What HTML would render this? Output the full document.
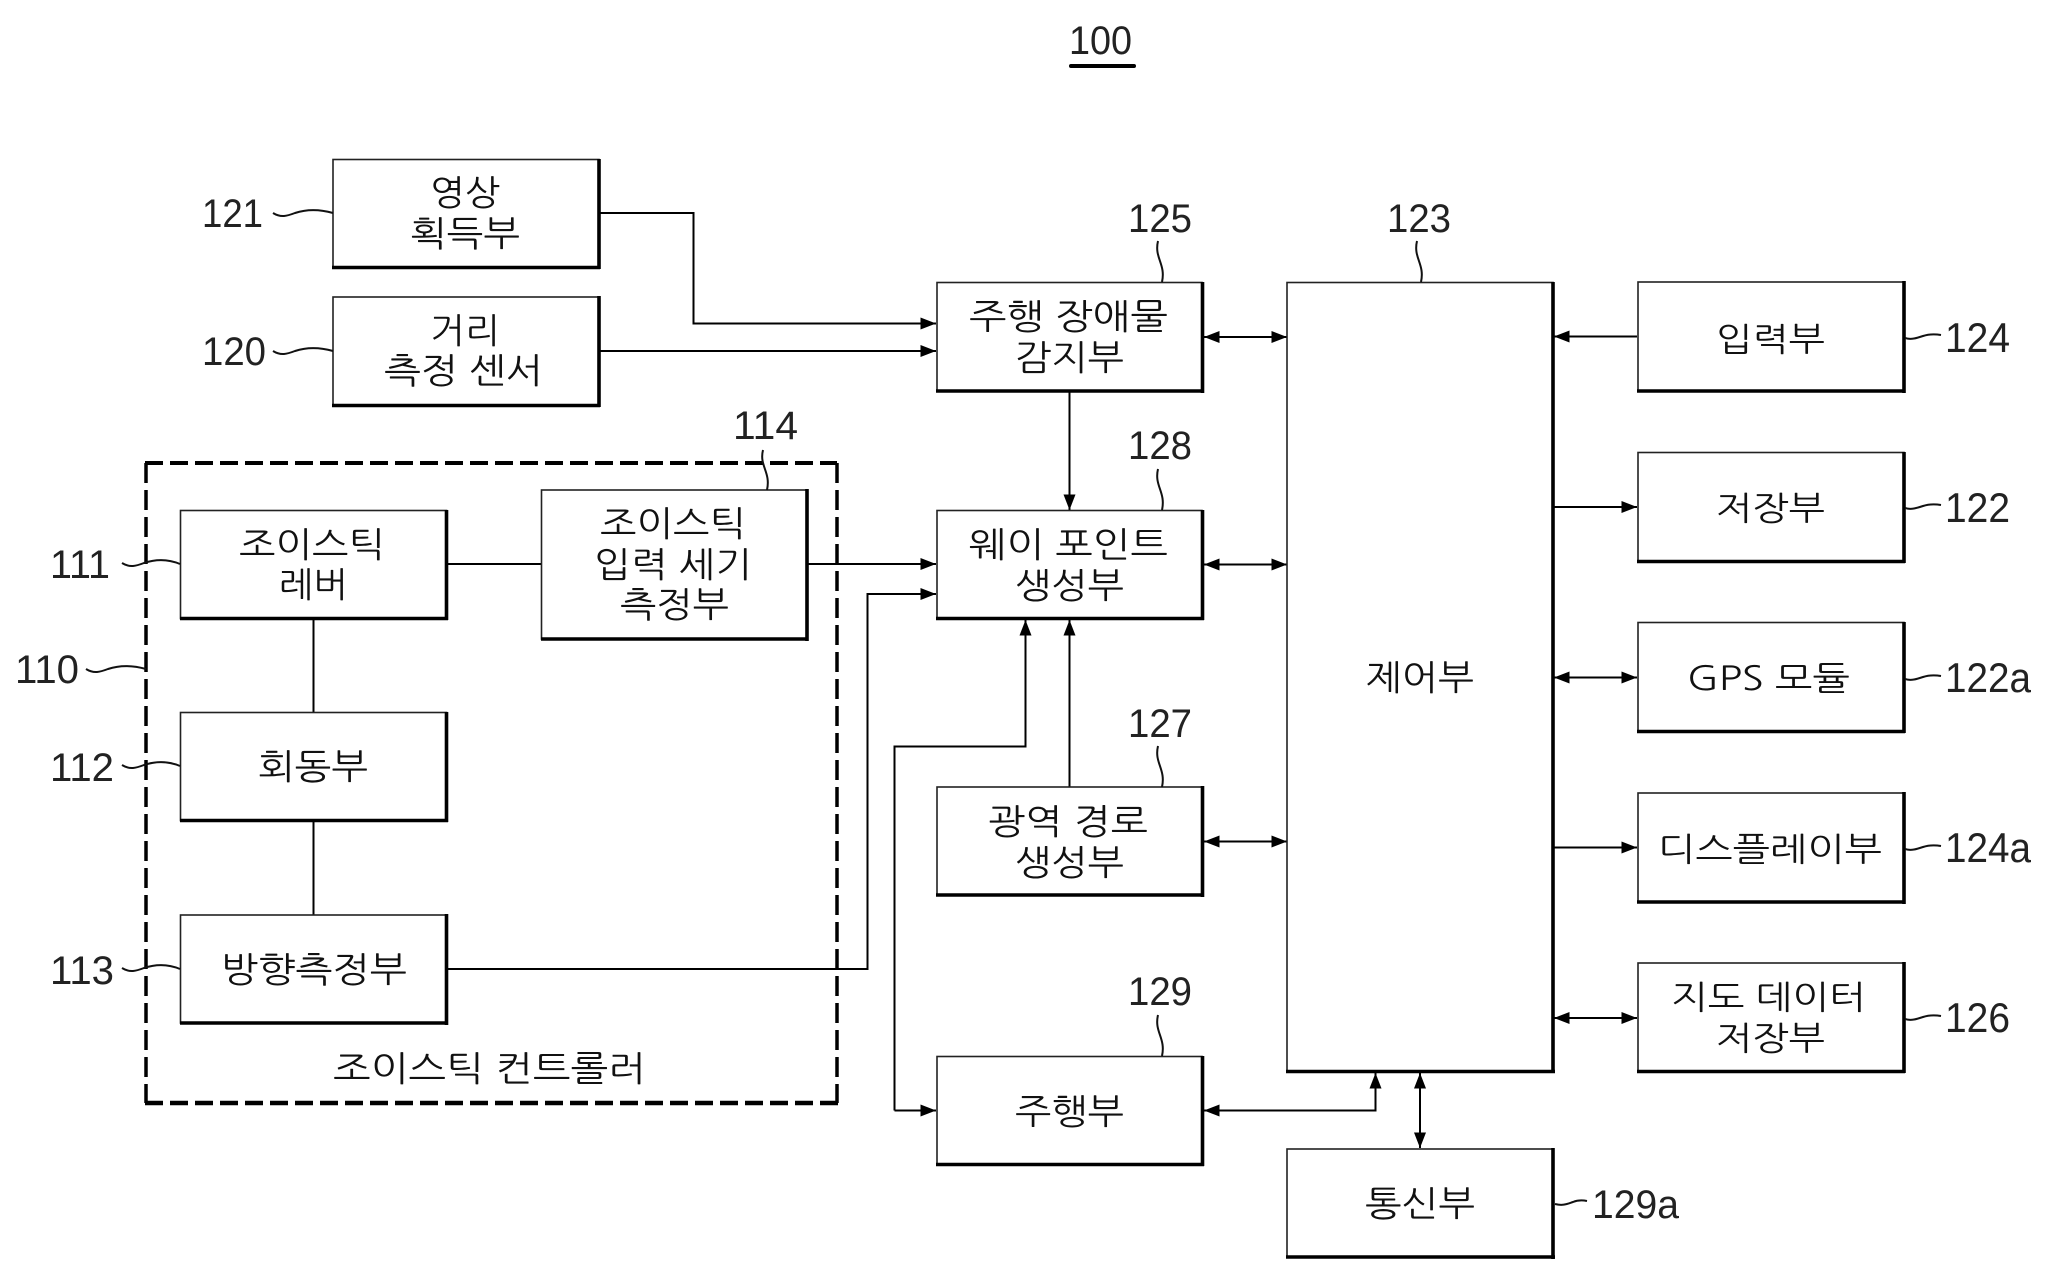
<!DOCTYPE html>
<html lang="ko"><head><meta charset="utf-8"><title>100</title>
<style>
html,body{margin:0;padding:0;background:#fff;width:2048px;height:1281px;overflow:hidden}
svg{display:block}
.k{font-family:"NanumGothic","Noto Sans CJK KR",sans-serif;font-size:35px;fill:#111}
.q{font-size:33px}
.n{font-family:"Liberation Sans",sans-serif;font-size:40px;fill:#222}
.r{font-size:42px}
.l{fill:none;stroke:#000;stroke-width:2}
.w{fill:none;stroke:#111;stroke-width:2}
.b{fill:#fff;stroke:#222;stroke-width:1.6}
.t{stroke:#000;stroke-width:3.6;fill:none}
.d{stroke:#000;fill:none}
</style></head><body>
<svg width="2048" height="1281" viewBox="0 0 2048 1281" xmlns="http://www.w3.org/2000/svg">
<defs>
<marker id="a" markerUnits="userSpaceOnUse" markerWidth="16" markerHeight="12" refX="15.5" refY="6" orient="auto-start-reverse"><path d="M0 0L15.5 6L0 12z" fill="#000"/></marker>
</defs>
<rect width="2048" height="1281" fill="#fff"/>

<!-- dashed group -->
<path class="d" stroke-width="4" stroke-dasharray="18 7" d="M145 463H837"/>
<path class="d" stroke-width="3.5" stroke-dasharray="20 7" d="M146 463V1103"/>
<path class="d" stroke-width="3.5" stroke-dasharray="20 7" d="M837 463V1103"/>
<path class="d" stroke-width="4.5" stroke-dasharray="18 7" d="M145 1103H838"/>

<!-- connectors -->
<path class="l" d="M600 213H693.500V323.500H936" marker-end="url(#a)"/>
<path class="l" d="M600 351H936" marker-end="url(#a)"/>
<path class="l" d="M447 564H541"/>
<path class="l" d="M807 564H936" marker-end="url(#a)"/>
<path class="l" d="M313.500 619V712"/>
<path class="l" d="M313.500 821V915"/>
<path class="l" d="M447 969H867.500V594H936" marker-end="url(#a)"/>
<path class="l" d="M1069.500 391V510" marker-end="url(#a)"/>
<path class="l" d="M1069.500 787V620" marker-end="url(#a)"/>
<path class="l" d="M894.500 1110.500V746.500H1025.500V620" marker-end="url(#a)"/>
<path class="l" d="M894.500 1110.500H936" marker-end="url(#a)"/>
<path class="l" d="M1204 337H1287" marker-start="url(#a)" marker-end="url(#a)"/>
<path class="l" d="M1204 564.500H1287" marker-start="url(#a)" marker-end="url(#a)"/>
<path class="l" d="M1204 841.500H1287" marker-start="url(#a)" marker-end="url(#a)"/>
<path class="l" d="M1204 1110.500H1375.500V1073" marker-start="url(#a)" marker-end="url(#a)"/>
<path class="l" d="M1420 1073V1148" marker-start="url(#a)" marker-end="url(#a)"/>
<path class="l" d="M1637 336.500H1554" marker-end="url(#a)"/>
<path class="l" d="M1554 507H1637" marker-end="url(#a)"/>
<path class="l" d="M1554 677.500H1637" marker-start="url(#a)" marker-end="url(#a)"/>
<path class="l" d="M1554 847.500H1637" marker-end="url(#a)"/>
<path class="l" d="M1554 1018H1637" marker-start="url(#a)" marker-end="url(#a)"/>

<!-- boxes -->
<g>
<rect class="b" x="333" y="159.500" width="266" height="108"/><path class="t" d="M332 267.500H600M599 159V269"/>
<rect class="b" x="333" y="297" width="266" height="108.500"/><path class="t" d="M332 405.500H600M599 296V407"/>
<rect class="b" x="180.500" y="510.500" width="266" height="108"/><path class="t" d="M180 618.500H448M446.500 510V620"/>
<rect class="b" x="541.500" y="490" width="265.500" height="149"/><path class="t" d="M541 639H808M807 489V641"/>
<rect class="b" x="180.500" y="712.500" width="266" height="108"/><path class="t" d="M180 820.500H448M446.500 712V822"/>
<rect class="b" x="180.500" y="915" width="266" height="108"/><path class="t" d="M180 1023H448M446.500 914V1025"/>
<rect class="b" x="937" y="282.500" width="265" height="108.500"/><path class="t" d="M936 391H1204M1202.500 282V393"/>
<rect class="b" x="937" y="510.500" width="265" height="108"/><path class="t" d="M936 618.500H1204M1202.500 510V620"/>
<rect class="b" x="937" y="787" width="265" height="108"/><path class="t" d="M936 895H1204M1202.500 786V897"/>
<rect class="b" x="937" y="1056.500" width="265" height="108"/><path class="t" d="M936 1164.500H1204M1202.500 1056V1166"/>
<rect class="b" x="1287" y="282.500" width="266" height="789"/><path class="t" d="M1286 1071.500H1555M1553 282V1073"/>
<rect class="b" x="1287" y="1149" width="266" height="108"/><path class="t" d="M1286 1257H1555M1553 1148V1259"/>
<rect class="b" x="1638" y="282" width="266" height="109"/><path class="t" d="M1637 391H1905M1904 281V393"/>
<rect class="b" x="1638" y="452.500" width="266" height="109"/><path class="t" d="M1637 561.500H1905M1904 452V563"/>
<rect class="b" x="1638" y="622.500" width="266" height="109"/><path class="t" d="M1637 731.500H1905M1904 622V733"/>
<rect class="b" x="1638" y="793" width="266" height="109"/><path class="t" d="M1637 902H1905M1904 792V904"/>
<rect class="b" x="1638" y="963" width="266" height="108.500"/><path class="t" d="M1637 1071.500H1905M1904 962V1073"/>
</g>

<!-- leaders -->
<g>
<path class="w" d="M273 213c8 5 14 3 22 0c12 -4 24 -4 38 0"/>
<path class="w" d="M273 351c8 5 14 3 22 0c12 -4 24 -4 38 0"/>
<path class="w" d="M122 563c8 5 14 3 22 0c12 -4 24 -4 36 1"/>
<path class="w" d="M86 669c8 5 14 3 22 0c12 -4 24 -4 38 0"/>
<path class="w" d="M122 765c8 5 14 3 22 0c12 -4 24 -4 36 1"/>
<path class="w" d="M122 968c8 5 14 3 22 0c12 -4 24 -4 36 1"/>
<path class="w" d="M763 450c-4 16 8 22 4 40"/>
<path class="w" d="M1158 241c-4 17 8 23 4 41"/>
<path class="w" d="M1417 241c-4 17 8 23 4 41"/>
<path class="w" d="M1158 469c-4 17 8 23 4 41"/>
<path class="w" d="M1158 746c-4 17 8 23 4 41"/>
<path class="w" d="M1158 1015c-4 17 8 23 4 41"/>
<path class="w" d="M1905 338c6 2 12 0 18 -2c6 -2 12 -2 18 -1"/>
<path class="w" d="M1905 508c6 2 12 0 18 -2c6 -2 12 -2 18 -1"/>
<path class="w" d="M1905 679c6 2 12 0 18 -2c6 -2 12 -2 18 -1"/>
<path class="w" d="M1905 849c6 2 12 0 18 -2c6 -2 12 -2 18 -1"/>
<path class="w" d="M1905 1019c6 2 12 0 18 -2c6 -2 12 -2 18 -1"/>
<path class="w" d="M1555 1204c8 2 12 0 18 -2c5 -2 9 -2 14 -1"/>
</g>

<!-- numbers -->
<g>
<text class="n" x="1069" y="54" textLength="63" lengthAdjust="spacingAndGlyphs">100</text>
<rect x="1069" y="64" width="67" height="4" rx="2" fill="#000"/>
<text class="n" x="202" y="227" textLength="61" lengthAdjust="spacingAndGlyphs">121</text>
<text class="n" x="202" y="365" textLength="64" lengthAdjust="spacingAndGlyphs">120</text>
<text class="n" x="733" y="439" textLength="65" lengthAdjust="spacingAndGlyphs">114</text>
<text class="n" x="50" y="578" textLength="60" lengthAdjust="spacingAndGlyphs">111</text>
<text class="n" x="15" y="683" textLength="64" lengthAdjust="spacingAndGlyphs">110</text>
<text class="n" x="50" y="781" textLength="64" lengthAdjust="spacingAndGlyphs">112</text>
<text class="n" x="50" y="984" textLength="64" lengthAdjust="spacingAndGlyphs">113</text>
<text class="n" x="1128" y="232" textLength="64" lengthAdjust="spacingAndGlyphs">125</text>
<text class="n" x="1387" y="232" textLength="64" lengthAdjust="spacingAndGlyphs">123</text>
<text class="n" x="1128" y="459" textLength="64" lengthAdjust="spacingAndGlyphs">128</text>
<text class="n" x="1128" y="737" textLength="64" lengthAdjust="spacingAndGlyphs">127</text>
<text class="n" x="1128" y="1005" textLength="64" lengthAdjust="spacingAndGlyphs">129</text>
<text class="n r" x="1945" y="352" textLength="65" lengthAdjust="spacingAndGlyphs">124</text>
<text class="n r" x="1945" y="522" textLength="65" lengthAdjust="spacingAndGlyphs">122</text>
<text class="n r" x="1945" y="692" textLength="86" lengthAdjust="spacingAndGlyphs">122a</text>
<text class="n r" x="1945" y="862" textLength="86" lengthAdjust="spacingAndGlyphs">124a</text>
<text class="n r" x="1945" y="1032" textLength="65" lengthAdjust="spacingAndGlyphs">126</text>
<text class="n" x="1592" y="1218" textLength="87" lengthAdjust="spacingAndGlyphs">129a</text>
</g>

<!-- labels -->
<g>
<text class="k" x="430" y="205" textLength="70" lengthAdjust="spacingAndGlyphs">영상</text>
<text class="k" x="410" y="246" textLength="110" lengthAdjust="spacingAndGlyphs">획득부</text>
<text class="k" x="430" y="343" textLength="70" lengthAdjust="spacingAndGlyphs">거리</text>
<text class="k" x="384" y="383" textLength="159" lengthAdjust="spacingAndGlyphs">측정 센서</text>
<text class="k" x="239" y="557" textLength="146" lengthAdjust="spacingAndGlyphs">조이스틱</text>
<text class="k" x="279" y="597" textLength="69" lengthAdjust="spacingAndGlyphs">레버</text>
<text class="k" x="600" y="536" textLength="146" lengthAdjust="spacingAndGlyphs">조이스틱</text>
<text class="k" x="594" y="577" textLength="158" lengthAdjust="spacingAndGlyphs">입력 세기</text>
<text class="k" x="620" y="617" textLength="109" lengthAdjust="spacingAndGlyphs">측정부</text>
<text class="k" x="258" y="779" textLength="110" lengthAdjust="spacingAndGlyphs">회동부</text>
<text class="k" x="221" y="982" textLength="186" lengthAdjust="spacingAndGlyphs">방향측정부</text>
<text class="k" x="333" y="1081" textLength="313" lengthAdjust="spacingAndGlyphs">조이스틱 컨트롤러</text>
<text class="k" x="969" y="329" textLength="199" lengthAdjust="spacingAndGlyphs">주행 장애물</text>
<text class="k" x="1015" y="370" textLength="109" lengthAdjust="spacingAndGlyphs">감지부</text>
<text class="k" x="969" y="557" textLength="199" lengthAdjust="spacingAndGlyphs">웨이 포인트</text>
<text class="k" x="1015" y="598" textLength="109" lengthAdjust="spacingAndGlyphs">생성부</text>
<text class="k" x="988" y="834" textLength="160" lengthAdjust="spacingAndGlyphs">광역 경로</text>
<text class="k" x="1015" y="875" textLength="109" lengthAdjust="spacingAndGlyphs">생성부</text>
<text class="k" x="1015" y="1124" textLength="109" lengthAdjust="spacingAndGlyphs">주행부</text>
<text class="k" x="1366" y="690" textLength="108" lengthAdjust="spacingAndGlyphs">제어부</text>
<text class="k" x="1365" y="1216" textLength="110" lengthAdjust="spacingAndGlyphs">통신부</text>
<text class="k q" x="1716" y="351" textLength="109" lengthAdjust="spacingAndGlyphs">입력부</text>
<text class="k q" x="1716" y="520" textLength="109" lengthAdjust="spacingAndGlyphs">저장부</text>
<text class="k q" x="1687" y="690" textLength="163" lengthAdjust="spacingAndGlyphs">GPS 모듈</text>
<text class="k q" x="1658" y="861" textLength="224" lengthAdjust="spacingAndGlyphs">디스플레이부</text>
<text class="k q" x="1671" y="1009" textLength="195" lengthAdjust="spacingAndGlyphs">지도 데이터</text>
<text class="k q" x="1716" y="1050" textLength="109" lengthAdjust="spacingAndGlyphs">저장부</text>
</g>
</svg>
</body></html>
